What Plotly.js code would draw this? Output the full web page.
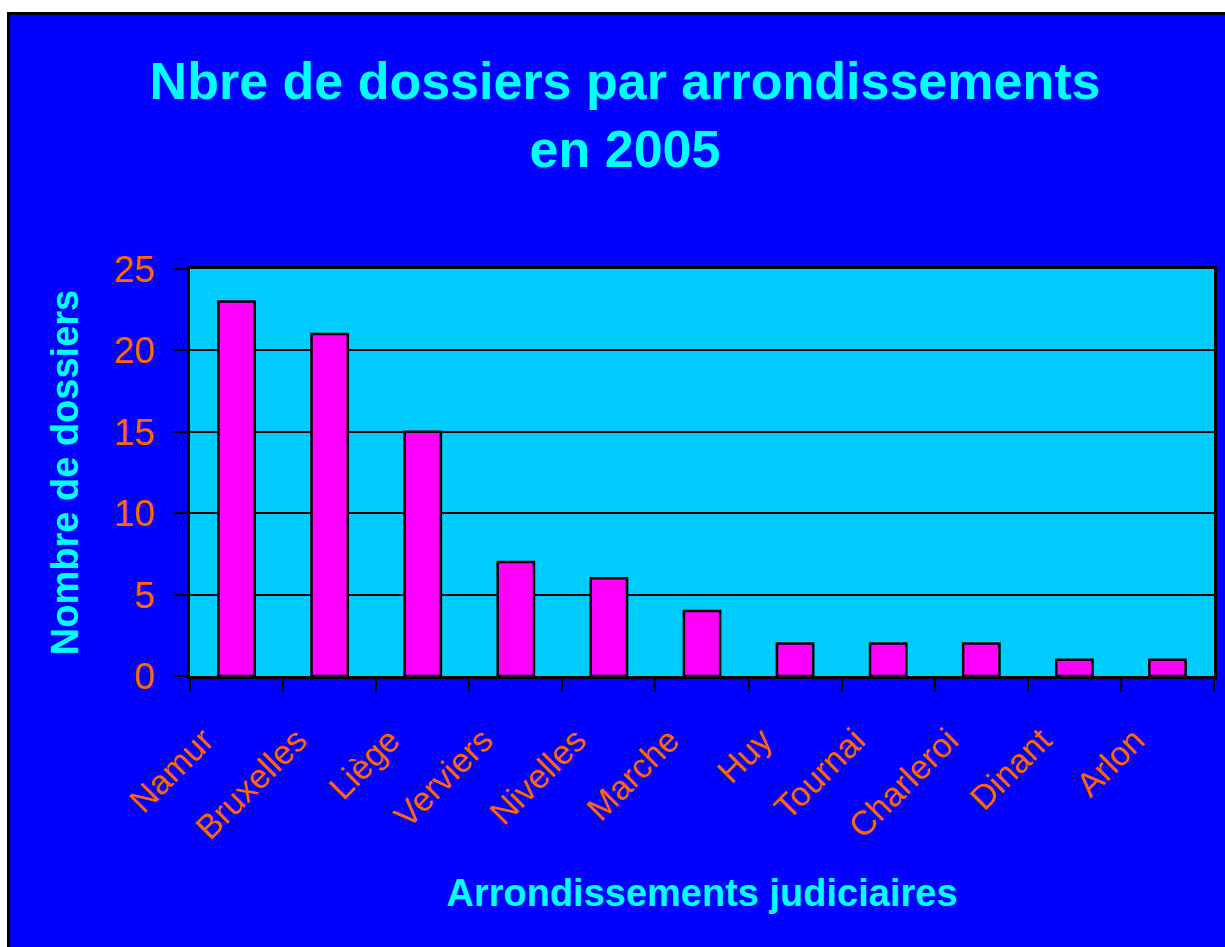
<!DOCTYPE html>
<html>
<head>
<meta charset="utf-8">
<script src="https://cdn.plot.ly/plotly-3.0.1.min.js"></script>
<style>
  html, body { margin: 0; padding: 0; overflow: hidden; background: #ffffff; }
  #frame {
    position: absolute; left: 7px; top: 12px;
    border: 3px solid #000000; background: #0000ff;
  }
</style>
</head>
<body>
<div id="frame"><div id="chart"></div></div>
<script>
var arrondissements = ['Namur', 'Bruxelles', 'Liège', 'Verviers', 'Nivelles', 'Marche',
    'Huy', 'Tournai', 'Charleroi', 'Dinant', 'Arlon'];
var dossiers = [23, 21, 15, 7, 6, 4, 2, 2, 2, 1, 1];
var yTicks = [0, 5, 10, 15, 20, 25];

var font = 'Liberation Sans, Arial, sans-serif';

var trace = {
    x: arrondissements,
    y: dossiers,
    type: 'bar',
    marker: {
        color: '#ff00ff',
        line: { color: '#000000', width: 2.5 }
    },
    hoverinfo: 'x+y'
};

var layout = {
    width: 1230,
    height: 940,
    margin: { l: 180, r: 26, t: 254, b: 279 },
    paper_bgcolor: '#0000ff',
    plot_bgcolor: '#00ccff',
    showlegend: false,
    bargap: 0.61,
    font: { family: font },
    title: {
        text: 'Nbre de dossiers par arrondissements<br>en 2005',
        font: { family: font, size: 52, color: '#00ffff', weight: 'bold' },
        x: 0.5,
        xanchor: 'center',
        y: 1 - 84 / 940,
        yanchor: 'top'
    },
    xaxis: {
        type: 'category',
        showline: true,
        linecolor: '#000000',
        linewidth: 2.5,
        mirror: true,
        ticks: 'outside',
        tickson: 'boundaries',
        ticklen: 13,
        tickwidth: 2,
        tickcolor: '#000000',
        tickangle: -45,
        ticklabelstandoff: 28,
        ticklabelshift: -33,
        tickfont: { family: font, size: 34, color: '#ff6600' },
        showgrid: false,
        automargin: false,
        title: {
            text: 'Arrondissements judiciaires',
            font: { family: font, size: 38, color: '#00ffff', weight: 'bold' },
            standoff: 34
        }
    },
    yaxis: {
        range: [0, 25],
        tickvals: yTicks,
        showline: true,
        linecolor: '#000000',
        linewidth: 2.5,
        mirror: true,
        ticks: 'outside',
        ticklen: 14,
        tickwidth: 2,
        tickcolor: '#000000',
        ticklabelstandoff: 11,
        tickfont: { family: font, size: 37, color: '#ff6600' },
        showgrid: true,
        gridcolor: '#000000',
        gridwidth: 2,
        zeroline: false,
        automargin: false,
        title: {
            text: 'Nombre de dossiers',
            font: { family: font, size: 38, color: '#00ffff', weight: 'bold' },
            standoff: 24
        }
    }
};

Plotly.newPlot('chart', [trace], layout, { displayModeBar: false });
</script>
</body>
</html>
